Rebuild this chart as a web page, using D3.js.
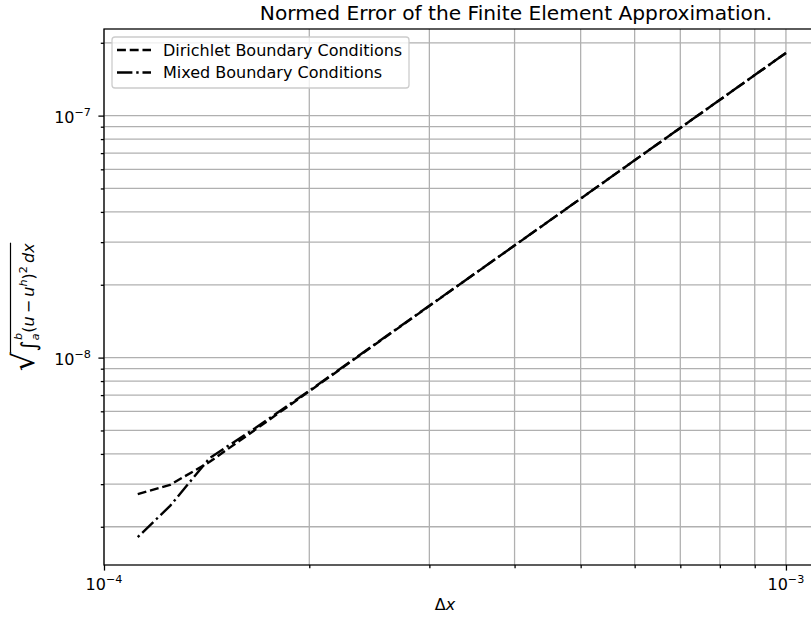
<!DOCTYPE html>
<html>
<head>
<meta charset="utf-8">
<script src="https://cdn.jsdelivr.net/npm/d3@7"></script>
<style>
  body { margin: 0; background: #fff; }
  svg { display: block; font-family: "DejaVu Sans", sans-serif; }
</style>
</head>
<body>
<div id="chart"></div>
<script>
// step size dx = 1/N, N = 1000 ... 9000
var dx = [1.0e-3, 5.0e-4, 3.333e-4, 2.5e-4, 2.0e-4, 1.667e-4, 1.429e-4, 1.25e-4, 1.111e-4];
var dirichlet = [1.816e-7, 4.54e-8, 2.018e-8, 1.135e-8, 7.26e-9, 5.04e-9, 3.71e-9, 2.98e-9, 2.71e-9];
var mixed     = [1.816e-7, 4.54e-8, 2.02e-8, 1.14e-8, 7.30e-9, 5.12e-9, 3.85e-9, 2.44e-9, 1.77e-9];
var seriesNames = ["Dirichlet Boundary Conditions", "Mixed Boundary Conditions"];

var xLim = [1e-4, 1.621e-3];
var yLim = [1.39e-9, 2.28e-7];
var xMajor = [1e-4, 1e-3], xExp = ["\u22124", "\u22123"];
var yMajor = [1e-8, 1e-7], yExp = ["\u22128", "\u22127"];
var xMinor = [2e-4, 3e-4, 4e-4, 5e-4, 6e-4, 7e-4, 8e-4, 9e-4];
var yMinor = [2e-9, 3e-9, 4e-9, 5e-9, 6e-9, 7e-9, 8e-9, 9e-9,
              2e-8, 3e-8, 4e-8, 5e-8, 6e-8, 7e-8, 8e-8, 9e-8, 2e-7];

var width = 811, height = 618;
var plot = {left: 104, top: 29, right: 929, bottom: 565};

var svg = d3.select("#chart").append("svg")
    .attr("width", width)
    .attr("height", height);
svg.append("rect").attr("width", width).attr("height", height).attr("fill", "#fff");

var x = d3.scaleLog().domain(xLim).range([plot.left, plot.right]);
var y = d3.scaleLog().domain(yLim).range([plot.bottom, plot.top]);

svg.append("clipPath").attr("id", "clip")
  .append("rect")
    .attr("x", plot.left).attr("y", plot.top)
    .attr("width", plot.right - plot.left).attr("height", plot.bottom - plot.top);

// grid (major + minor)
var grid = svg.append("g").attr("stroke", "#b0b0b0").attr("stroke-width", 1.28);
grid.selectAll(".gx")
  .data(xMajor.concat(xMinor))
  .enter().append("line")
    .attr("x1", d => x(d)).attr("x2", d => x(d))
    .attr("y1", plot.top).attr("y2", plot.bottom);
grid.selectAll(".gy")
  .data(yMajor.concat(yMinor))
  .enter().append("line")
    .attr("y1", d => y(d)).attr("y2", d => y(d))
    .attr("x1", plot.left).attr("x2", plot.right);

// lines
var pts = function(vals) { return dx.map((d, i) => [d, vals[i]]); };
var line = d3.line().x(d => x(d[0])).y(d => y(d[1]));
var lines = svg.append("g").attr("clip-path", "url(#clip)")
    .attr("fill", "none").attr("stroke", "#000").attr("stroke-width", 2.4)
    .attr("stroke-linejoin", "round");
lines.append("path").attr("d", line(pts(dirichlet))).attr("stroke-dasharray", "8.9,3.84");
lines.append("path").attr("d", line(pts(mixed))).attr("stroke-dasharray", "15.4,3.84,2.4,3.84");

// axes ticks
function noDomain(g) { g.select(".domain").remove(); g.selectAll("text").remove(); }
svg.append("g").attr("transform", "translate(0," + plot.bottom + ")")
  .call(d3.axisBottom(x).tickValues(xMajor).tickSize(5.6).tickFormat("")).call(noDomain);
svg.append("g").attr("transform", "translate(0," + plot.bottom + ")")
  .call(d3.axisBottom(x).tickValues(xMinor).tickSize(3.2).tickFormat("")).call(noDomain);
svg.append("g").attr("transform", "translate(" + plot.left + ",0)")
  .call(d3.axisLeft(y).tickValues(yMajor).tickSize(5.6).tickFormat("")).call(noDomain);
svg.append("g").attr("transform", "translate(" + plot.left + ",0)")
  .call(d3.axisLeft(y).tickValues(yMinor).tickSize(3.2).tickFormat("")).call(noDomain);
svg.selectAll(".tick line").attr("stroke-width", 1.28);

// spines
var spines = svg.append("g").attr("stroke", "#000").attr("stroke-width", 1.28).attr("fill", "none");
spines.append("rect")
  .attr("x", plot.left).attr("y", plot.top)
  .attr("width", plot.right - plot.left).attr("height", plot.bottom - plot.top);

// tick labels
var xl = svg.selectAll(".xlab").data(xMajor).enter().append("text")
    .attr("x", d => x(d)).attr("y", 590)
    .attr("text-anchor", "middle").attr("font-size", 16);
xl.append("tspan").text("10");
xl.append("tspan").attr("font-size", 11.2).attr("dy", -7).text((d, i) => xExp[i]);

var yl = svg.selectAll(".ylab").data(yMajor).enter().append("text")
    .attr("x", 91).attr("y", d => y(d) + 7)
    .attr("text-anchor", "end").attr("font-size", 16);
yl.append("tspan").text("10");
yl.append("tspan").attr("font-size", 11.2).attr("dy", -7).text((d, i) => yExp[i]);

// title and axis labels
svg.append("text").attr("x", 516).attr("y", 19.5).attr("text-anchor", "middle")
  .attr("font-size", 20.2).text("Normed Error of the Finite Element Approximation.");

var xlab = svg.append("text").attr("x", 445).attr("y", 610).attr("text-anchor", "middle")
  .attr("font-size", 16);
xlab.append("tspan").text("\u0394");
xlab.append("tspan").attr("font-style", "italic").text("x");

var ylab = svg.append("g").attr("transform", "translate(34,307) rotate(-90)");
var root = ylab.append("text").attr("font-size", 30).text("\u221a");
var rad = ylab.append("text").attr("font-size", 16);
rad.append("tspan").attr("font-size", 21).attr("dy", 2).text("\u222b");
rad.append("tspan").attr("font-size", 11.2).attr("font-style", "italic").attr("dy", 3).text("a");
rad.append("tspan").attr("font-size", 11.2).attr("font-style", "italic").attr("dx", -6.5).attr("dy", -17).text("b");
rad.append("tspan").attr("dy", 12).text("(");
rad.append("tspan").attr("font-style", "italic").text("u");
rad.append("tspan").text("\u2009\u2212\u2009");
rad.append("tspan").attr("font-style", "italic").text("u");
rad.append("tspan").attr("font-size", 11.2).attr("font-style", "italic").attr("dy", -7).text("h");
rad.append("tspan").attr("dy", 7).text(")");
rad.append("tspan").attr("font-size", 11.2).attr("dy", -7).text("2");
rad.append("tspan").attr("font-style", "italic").attr("dy", 7).text("\u2009dx");
var w1 = root.node().getBBox().width;
var w2 = rad.node().getBBox().width;
var start = -(w1 + w2) / 2;
root.attr("x", start);
rad.attr("x", start + w1);
ylab.append("line")
  .attr("x1", start + w1 - 1.5).attr("x2", start + w1 + w2)
  .attr("y1", -23.5).attr("y2", -23.5)
  .attr("stroke", "#000").attr("stroke-width", 1.2);

// legend
var legend = svg.append("g");
legend.append("rect")
  .attr("x", 112).attr("y", 37).attr("width", 297).attr("height", 51).attr("rx", 3)
  .attr("fill", "#fff").attr("fill-opacity", 0.8).attr("stroke", "#cccccc").attr("stroke-width", 1.28);
var dashes = ["8.9,3.84", "15.4,3.84,2.4,3.84"];
var rows = legend.selectAll(".row").data(seriesNames).enter().append("g")
    .attr("transform", (d, i) => "translate(0," + (50 + i * 22.5) + ")");
rows.append("line").attr("x1", 117).attr("x2", 151)
  .attr("stroke", "#000").attr("stroke-width", 2.4)
  .attr("stroke-dasharray", (d, i) => dashes[i]);
rows.append("text").attr("x", 163).attr("y", 5.8).attr("font-size", 16).text(d => d);
</script>
</body>
</html>
